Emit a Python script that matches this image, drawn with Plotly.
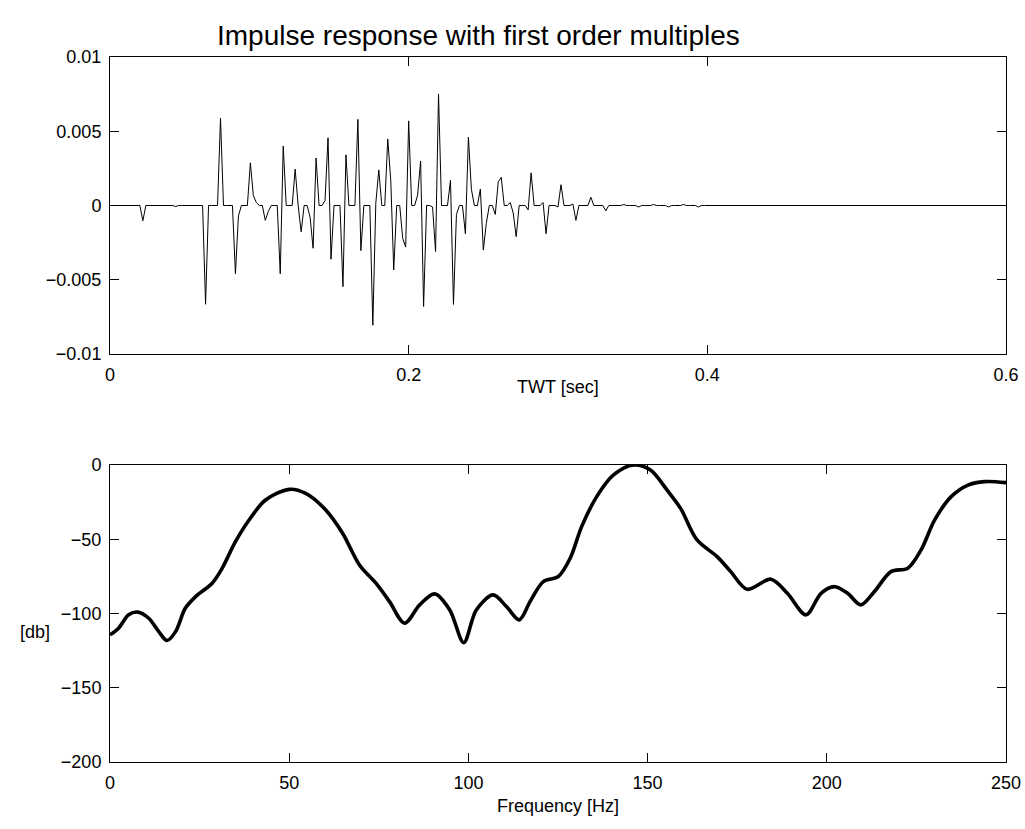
import numpy as np
import plotly.graph_objects as go
from plotly.subplots import make_subplots

# ---- Top panel: impulse response (2 ms sampling), nonzero samples ----
sample_dt = 0.002
n_samples = 301
spike_index = [11, 22, 32, 37, 42, 43, 47, 48, 49, 52, 53, 57, 58, 62, 64, 67, 68, 69,
               72, 73, 74, 78, 79, 83, 84, 88, 89, 90, 93, 94, 95, 98, 99, 100, 103, 104,
               105, 108, 109, 110, 114, 115, 116, 119, 120, 121, 124, 125, 126, 129, 130,
               131, 134, 135, 136, 140, 141, 145, 146, 150, 151, 155, 156, 161, 166, 172,
               177, 182, 187, 192, 197]
spike_amp = [-0.00103, -0.00007, -0.00665, 0.00589, -0.0046, -0.0007, 0.00287, 0.00066,
             0.0002, -0.001, -0.0004, -0.0046, 0.0040, 0.00245, -0.00177, -0.0008,
             -0.00288, 0.0032, 0.00034, 0.00456, -0.00362, -0.00546, 0.00341, 0.0058,
             -0.00304, -0.00806, 0.00016, 0.0024, 0.00448, 0.0017, -0.00434, -0.0022,
             -0.0028, 0.0057, 0.0007, 0.003, -0.0068, -0.0001, -0.0031, 0.0075, 0.0017,
             -0.00666, -0.0006, -0.0019, 0.0046, 0.0011, 0.0011, -0.003, -0.0012, -0.0006,
             0.0016, 0.0019, 0.0002, -0.0005, -0.0021, -0.0003, 0.0022, 0.0002, -0.0019,
             -0.0001, 0.0014, 0.0001, -0.001, 0.00056, -0.00036, 0.00007, -0.0001,
             0.00007, -0.0001, 0.00007, -0.0001]

# ---- Bottom panel: amplitude spectrum in dB ----
freq_hz = [0, 2.4, 5.2, 7.8, 10.8, 13.6, 15.9, 18.3, 21.0, 23.9, 28.5, 31.3, 35.0, 38.8,
           43.4, 50.0, 54.6, 60.2, 64.9, 69.6, 74.2, 78.0, 82.2, 86.4, 90.6, 94.8, 98.7,
           102.2, 106.9, 110.6, 114.2, 117.2, 120.9, 125.1, 128.4, 131.6, 135.8, 140.5,
           146.1, 150.8, 155.4, 159.2, 163.8, 169.4, 173.2, 177.8, 184.4, 189.0, 194.2,
           198.4, 202.1, 205.8, 209.5, 213.3, 217.9, 222.6, 226.3, 230.1, 234.7, 239.4,
           244.1, 250]
spec_db = [-114.4, -109.9, -100.9, -99.1, -103.2, -112.2, -118.2, -112.2, -96.5, -88.6,
           -79.6, -69.5, -51.6, -37.0, -23.6, -16.4, -19.1, -30.3, -46.0, -67.3, -79.6,
           -92.0, -106.5, -94.2, -86.8, -97.6, -119.6, -97.6, -87.5, -95.3, -104.3, -92.0,
           -78.5, -75.1, -62.8, -41.5, -21.3, -6.7, 0.0, -3.4, -16.8, -29.2, -50.5, -61.7,
           -71.8, -83.7, -76.9, -86.4, -100.9, -86.4, -81.9, -86.4, -94.2, -85.2, -71.8,
           -69.5, -57.2, -37.0, -21.3, -13.5, -11.2, -11.9]

top_xticks = [0, 0.2, 0.4, 0.6]
top_xticktext = ["0", "0.2", "0.4", "0.6"]
top_yticks = [-0.01, -0.005, 0, 0.005, 0.01]
top_yticktext = ["\u22120.01", "\u22120.005", "0", "0.005", "0.01"]
bot_xticks = [0, 50, 100, 150, 200, 250]
bot_yticks = [-200, -150, -100, -50, 0]
bot_yticktext = ["\u2212200", "\u2212150", "\u2212100", "\u221250", "0"]

title_text = "Impulse response with first order multiples"
top_xlabel = "TWT [sec]"
bot_xlabel = "Frequency [Hz]"
bot_ylabel = "[db]"

# build trace
amp = np.zeros(n_samples)
amp[np.array(spike_index)] = spike_amp
t = np.arange(n_samples) * sample_dt

FONT = "Liberation Sans, Arial, Helvetica, sans-serif"

fig = make_subplots(rows=2, cols=1)
fig.add_trace(go.Scatter(x=t, y=amp, mode="lines",
                         line=dict(color="black", width=1), showlegend=False,
                         hoverinfo="skip"), row=1, col=1)
fig.add_trace(go.Scatter(x=freq_hz, y=spec_db, mode="lines",
                         line=dict(color="black", width=3.6, shape="spline", smoothing=0.9),
                         showlegend=False, hoverinfo="skip"), row=2, col=1)

axis_common = dict(showline=True, linecolor="black", linewidth=1, mirror="ticks",
                   ticks="inside", ticklen=9, tickcolor="black", tickwidth=1,
                   showgrid=False, zeroline=False, automargin=False,
                   ticklabeloverflow="allow",
                   tickfont=dict(family=FONT, size=18, color="black"))

fig.update_xaxes(range=[0, 0.6], tickvals=top_xticks, ticktext=top_xticktext,
                 ticklabelstandoff=4, domain=[0, 1], **axis_common, row=1, col=1)
fig.update_yaxes(range=[-0.01, 0.01], tickvals=top_yticks, ticktext=top_yticktext,
                 domain=[0.5787, 1.0], ticklabelstandoff=4, **axis_common, row=1, col=1)
fig.update_xaxes(range=[0, 250], tickvals=bot_xticks,
                 ticklabelstandoff=4, domain=[0, 1], **axis_common, row=2, col=1)
fig.update_yaxes(range=[-200, 0], tickvals=bot_yticks, ticktext=bot_yticktext,
                 domain=[0.0, 0.4213], ticklabelstandoff=4, **axis_common, row=2, col=1)

def label(text, x, y, size):
    fig.add_annotation(text=text, xref="paper", yref="paper", x=x, y=y,
                       xanchor="center", yanchor="middle", showarrow=False,
                       font=dict(family=FONT, size=size, color="black"))

label(title_text, 0.4118, 1.0298, 28)
label(top_xlabel, 0.5, 0.5319, 18)
label(bot_xlabel, 0.5, -0.0624, 18)
label(bot_ylabel, -0.0837, 0.1844, 18)

fig.update_layout(width=1025, height=829, paper_bgcolor="white", plot_bgcolor="white",
                  margin=dict(l=110, r=19, t=57, b=67), showlegend=False,
                  hovermode=False)

fig.write_html("out.html", config={"displayModeBar": False, "staticPlot": True},
               post_script="document.body.style.margin='0px';document.body.style.overflow='hidden';")
